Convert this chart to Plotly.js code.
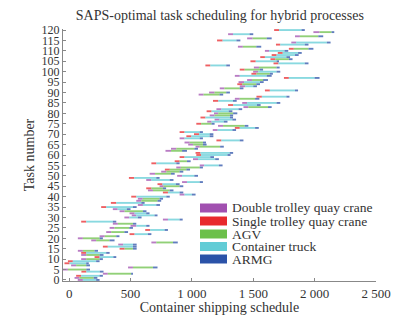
<!DOCTYPE html>
<html>
<head>
<meta charset="utf-8">
<script src="https://cdn.plot.ly/plotly-3.0.1.min.js"></script>
<style>html,body{margin:0;padding:0;background:#fff;}#chart{width:414px;height:315px;}</style>
</head>
<body>
<div id="chart"></div>
<script>
// Per task (index = task number 0..120)
// quay crane type: D = double trolley, S = single trolley
const qcType = ["D","D","S","D","S","D","D","D","S","S","D","S","D","S","D","S","S","D","D","D","D","D","S","D","S","D","D","D","S","D","D","D","D","D","D","S","D","S","D","D","S","D","S","D","S","D","S","D","D","S","D","D","D","S","D","D","S","S","D","S","S","S","D","D","D","D","D","S","D","S","S","S","D","S","D","S","D","D","S","D","D","S","D","D","S","D","S","D","S","D","D","S","D","D","S","D","D","S","D","S","D","S","D","S","S","S","S","S","S","S","D","S","D","S","D","S","D","D","D","D","S"];
const qcStart = [70,44,57,275,100,-50,480,16,-38,-10,98,207,98,98,71,411,275,400,670,180,71,248,492,302,620,330,500,356,98,764,450,510,492,411,356,261,560,340,547,560,506,900,764,642,628,737,720,920,628,487,880,656,750,780,873,1064,670,860,1009,900,1036,1030,785,830,1030,970,940,1200,900,955,1017,900,1170,1350,1213,1036,1125,1185,1070,1145,1180,1120,1200,1420,1295,1410,1172,1350,1526,1055,1140,1595,1227,1390,1370,1380,1450,1750,1350,1485,1499,1390,1505,1110,1665,1477,1640,1557,1650,1700,1595,1790,1375,1685,1810,1205,1450,1840,1295,1990,1670];
const trStart = [112,84,98,315,140,-10,520,57,3,30,139,248,139,139,112,452,315,440,710,220,112,290,533,343,660,370,547,397,139,805,490,547,533,452,395,302,601,384,588,600,547,940,805,683,670,770,760,960,670,530,920,700,792,820,910,1100,710,900,1050,940,1075,1070,830,873,1064,1010,982,1240,940,995,1058,940,1210,1390,1254,1075,1160,1225,1110,1185,1215,1160,1240,1460,1336,1450,1215,1390,1570,1095,1185,1635,1265,1435,1410,1425,1490,1790,1390,1526,1540,1430,1547,1150,1705,1520,1680,1595,1690,1740,1630,1830,1415,1720,1850,1250,1495,1880,1335,2040,1710];
// transport type: A = AGV, T = container truck
const trType = ["T","A","T","A","T","A","A","A","T","T","A","T","A","T","A","A","T","T","A","A","A","A","T","A","T","A","T","A","T","T","T","T","T","A","T","T","T","T","A","A","T","T","T","A","A","A","T","T","T","T","T","A","A","A","A","T","T","A","T","T","T","T","A","A","A","A","A","T","T","T","T","T","T","T","A","A","T","T","T","A","A","T","T","A","T","T","T","A","T","A","A","T","A","T","A","T","A","T","T","A","T","A","A","T","T","T","A","T","T","T","T","A","A","T","T","T","A","A","T","A","T"];
const armgStart = [220,200,248,505,250,140,683,139,139,220,248,360,248,302,207,520,520,520,846,329,248,384,642,450,778,490,628,520,356,900,560,696,628,601,470,520,710,588,720,737,792,1000,900,819,764,900,870,1064,819,710,1020,830,900,955,1064,1220,873,960,1190,1150,1290,1308,920,1020,1230,1090,1090,1390,1064,1145,1145,1064,1330,1515,1430,1160,1260,1330,1310,1310,1336,1300,1380,1620,1530,1690,1335,1515,1770,1225,1280,1840,1390,1500,1525,1555,1580,2000,1610,1635,1690,1555,1690,1280,1920,1690,1790,1770,1840,1865,1755,1950,1525,1920,2100,1363,1610,2030,1470,2138,1893];
const armgEnd = [248,230,275,520,280,170,720,170,160,248,275,384,280,330,235,550,550,550,885,370,275,410,670,480,805,520,655,547,384,925,590,720,655,630,500,550,740,615,750,765,820,1030,930,850,790,930,900,1090,850,737,1050,860,930,985,1090,1250,900,990,1220,1180,1315,1336,960,1050,1260,1120,1115,1420,1090,1175,1175,1090,1360,1545,1460,1185,1290,1360,1335,1336,1370,1330,1410,1650,1560,1720,1365,1550,1795,1255,1310,1865,1420,1530,1555,1585,1620,2040,1650,1660,1720,1580,1715,1310,1950,1710,1820,1800,1870,1895,1785,1990,1565,1950,2130,1395,1650,2070,1500,2160,1920];

const xTickVals = [0, 500, 1000, 1500, 2000, 2500];
const xTickText = ["0", "500", "1 000", "1 500", "2 000", "2 500"];
const legendNames = ["Double trolley quay crane", "Single trolley quay crane", "AGV", "Container truck", "ARMG"];
const colors = ["#a150b0", "#e8292d", "#6cc04a", "#62ccd6", "#2b52a8"];

const FONT = "Liberation Serif, Times New Roman, serif";

function group(filterFn, startArr, endArr) {
  const y = [], base = [], x = [];
  for (let i = 0; i < startArr.length; i++) {
    if (filterFn(i)) { y.push(i); base.push(startArr[i]); x.push(endArr[i] - startArr[i]); }
  }
  return {y, base, x};
}

const groups = [
  group(i => qcType[i] === "D", qcStart, trStart),
  group(i => qcType[i] === "S", qcStart, trStart),
  group(i => trType[i] === "A", trStart, armgStart),
  group(i => trType[i] === "T", trStart, armgStart),
  group(i => true, armgStart, armgEnd)
];

const traces = groups.map((g, k) => ({
  type: "bar", orientation: "h",
  y: g.y, x: g.x, base: g.base,
  width: 0.9,
  marker: {color: colors[k], opacity: 0.75, line: {width: 0}},
  name: legendNames[k], showlegend: false, hoverinfo: "skip"
}));

// manual legend (paper coords)
const L = 63, R = 376, T = 29, B = 281;
const px = v => (v - L) / (R - L);
const py = v => (B - v) / (B - T);
const legendY = [208, 221, 234, 246.5, 259];
const shapes = [], annotations = [];
legendNames.forEach((n, k) => {
  shapes.push({type: "rect", xref: "paper", yref: "paper",
    x0: px(200), x1: px(227), y0: py(legendY[k] + 4.5), y1: py(legendY[k] - 4.5),
    fillcolor: colors[k], line: {width: 0}});
  annotations.push({xref: "paper", yref: "paper", x: px(230), y: py(legendY[k]),
    xanchor: "left", yanchor: "middle", showarrow: false, text: n,
    font: {family: FONT, size: 13.5, color: "#333"}});
});

const layout = {
  width: 414, height: 315,
  margin: {l: L, r: 414 - R, t: T, b: 315 - B, pad: 0},
  paper_bgcolor: "#fff", plot_bgcolor: "#fff",
  barmode: "overlay",
  title: {text: "SAPS-optimal task scheduling for hybrid processes",
    font: {family: FONT, size: 14, color: "#333"},
    x: 0.531, xanchor: "center", y: 1 - 15.5 / 315, yanchor: "middle", yref: "container"},
  xaxis: {range: [-50, 2500], tickvals: xTickVals, ticktext: xTickText,
    showgrid: false, zeroline: false, showline: true, linecolor: "#888", linewidth: 1,
    ticks: "inside", ticklen: 3, tickcolor: "#888",
    tickfont: {family: FONT, size: 13, color: "#333"},
    title: {text: "Container shipping schedule", font: {family: FONT, size: 14, color: "#333"}, standoff: 3}},
  yaxis: {range: [-0.5, 120.5], tick0: 0, dtick: 5,
    showgrid: false, zeroline: false, showline: true, linecolor: "#888", linewidth: 1,
    ticks: "inside", ticklen: 3, tickcolor: "#888",
    tickfont: {family: FONT, size: 12, color: "#333"},
    title: {text: "Task number", font: {family: FONT, size: 14, color: "#333"}, standoff: 3}},
  shapes: shapes, annotations: annotations,
  showlegend: false
};

Plotly.newPlot("chart", traces, layout, {displayModeBar: false, staticPlot: true});
</script>
</body>
</html>
